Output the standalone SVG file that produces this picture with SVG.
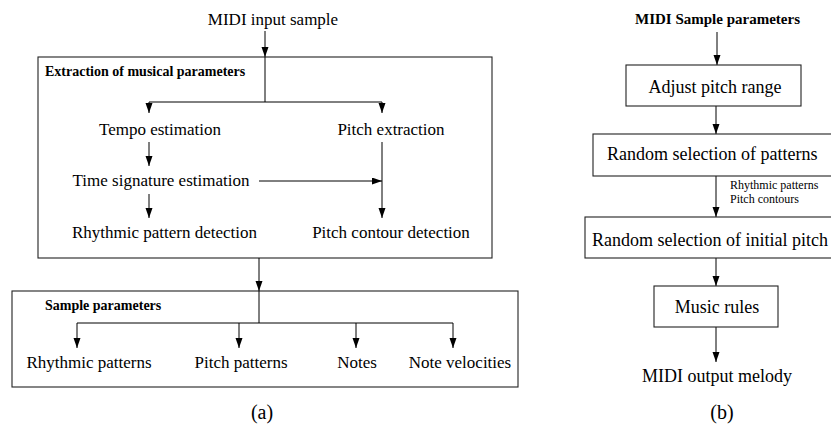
<svg xmlns="http://www.w3.org/2000/svg" width="831" height="425" viewBox="0 0 831 425">
<defs>
<marker id="ah" markerUnits="userSpaceOnUse" markerWidth="10" markerHeight="8" refX="10" refY="3.5" orient="auto">
<path d="M0,0 L10,3.5 L0,7 z" fill="#000"/>
</marker>
<style>
text{font-family:"Liberation Serif","Times New Roman",serif;fill:#000}
.a{font-size:17px}
.b{font-size:18px}
.hd{font-size:14px;font-weight:bold}
.sm{font-size:12px}
.c{text-anchor:middle}
.box{fill:#fff;stroke:#222;stroke-width:1.1}
.ln{fill:none;stroke:#000;stroke-width:1}
.ar{fill:none;stroke:#000;stroke-width:1;marker-end:url(#ah)}
</style>
</defs>
<rect width="831" height="425" fill="#fff"/>

<g id="boxA1"><rect class="box" x="38" y="57" width="454" height="201"/>
<text class="hd" x="45" y="76">Extraction of musical parameters</text></g>
<g id="boxA2"><rect class="box" x="12" y="291" width="506" height="96"/>
<text class="hd" x="45" y="310">Sample parameters</text></g>

<g id="connectors">
<line class="ar" x1="265" y1="31" x2="265" y2="57"/>
<polyline class="ln" points="265,57 265,102"/>
<polyline class="ln" points="149,102 382,102"/>
<line class="ar" x1="149" y1="102" x2="149" y2="113"/>
<line class="ar" x1="382" y1="102" x2="382" y2="113"/>
<line class="ar" x1="149" y1="142" x2="149" y2="166"/>
<line class="ar" x1="259" y1="181" x2="382" y2="181"/>
<line class="ar" x1="382" y1="142" x2="382" y2="218"/>
<line class="ar" x1="149" y1="194" x2="149" y2="218"/>
<line class="ar" x1="259" y1="258" x2="259" y2="291"/>
<polyline class="ln" points="259,291 259,323"/>
<polyline class="ln" points="77,323 453,323"/>
<line class="ar" x1="77" y1="323" x2="77" y2="348"/>
<line class="ar" x1="239" y1="323" x2="239" y2="348"/>
<line class="ar" x1="356" y1="323" x2="356" y2="348"/>
<line class="ar" x1="453" y1="323" x2="453" y2="348"/>

<line class="ar" x1="717" y1="32" x2="717" y2="65"/>
<line class="ar" x1="716" y1="106" x2="716" y2="134"/>
<line class="ar" x1="716" y1="176" x2="716" y2="217"/>
<line class="ar" x1="716" y1="258" x2="716" y2="286"/>
<line class="ar" x1="716" y1="327" x2="716" y2="362"/>
<text class="sm" x="730" y="189">Rhythmic patterns</text>
<text class="sm" x="730" y="203">Pitch contours</text>
</g>

<g id="midiIn"><text class="a c" x="273" y="25">MIDI input sample</text></g>
<g id="tempo"><text class="a c" x="160" y="135">Tempo estimation</text></g>
<g id="pitchExt"><text class="a c" x="391" y="135">Pitch extraction</text></g>
<g id="timeSig"><text class="a c" x="161" y="186">Time signature estimation</text></g>
<g id="rhythmDet"><text class="a c" x="164.5" y="238">Rhythmic pattern detection</text></g>
<g id="contourDet"><text class="a c" x="391" y="238">Pitch contour detection</text></g>
<g id="rhythmPat"><text class="a c" x="89" y="368">Rhythmic patterns</text></g>
<g id="pitchPat"><text class="a c" x="241" y="368">Pitch patterns</text></g>
<g id="notes"><text class="a c" x="357" y="368">Notes</text></g>
<g id="noteVel"><text class="a c" x="460" y="368">Note velocities</text></g>
<g id="capA"><text class="c" style="font-size:20px" x="262" y="419">(a)</text></g>

<g id="midiParams"><text class="c" style="font-size:15px;font-weight:bold" x="717.5" y="24">MIDI Sample parameters</text></g>
<g id="adjust"><rect class="box" x="626" y="65" width="175" height="41"/>
<text class="b c" x="715" y="93">Adjust pitch range</text></g>
<g id="randPat"><rect class="box" x="593" y="134" width="250" height="42"/>
<text class="b" x="607" y="160">Random selection of patterns</text></g>
<g id="randPitch"><rect class="box" x="585" y="217" width="264" height="41"/>
<text class="b" x="592" y="246">Random selection of initial pitch</text></g>
<g id="rules"><rect class="box" x="654" y="286" width="124" height="41"/>
<text class="b c" x="717" y="313">Music rules</text></g>
<g id="midiOut"><text class="b c" x="717" y="382">MIDI output melody</text></g>
<g id="capB"><text class="c" style="font-size:20px" x="722" y="419">(b)</text></g>
</svg>
